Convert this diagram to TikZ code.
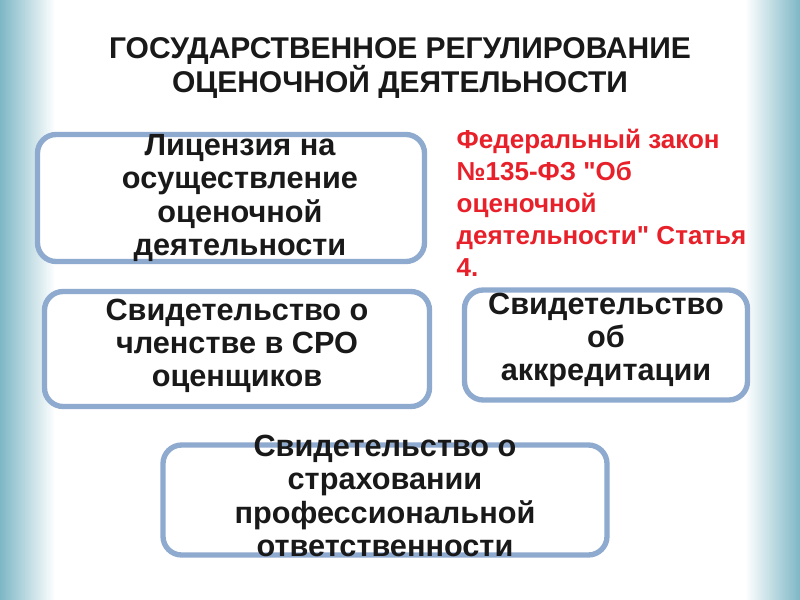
\documentclass[tikz,border=0pt]{standalone}
\usepackage{fontspec}
\setmainfont{Liberation Sans}
\usetikzlibrary{positioning}
\definecolor{edge}{HTML}{8FAACF}
\definecolor{sea}{HTML}{7DB7C6}
\definecolor{lawred}{HTML}{E8202A}
\tikzset{box/.style={draw=edge,line width=4pt,rounded corners=14pt,fill=white}}
\tikzset{txt/.style={font=\bfseries\fontsize{23}{25}\selectfont,align=center,text=black!90}}
\begin{document}
\begin{tikzpicture}[x=0.75pt,y=-0.75pt]
\useasboundingbox (0,0) rectangle (800,600);
\fill[white] (0,0) rectangle (800,600);
\shade[left color=sea,right color=white] (0,0) rectangle (55,600);
\shade[right color=sea,left color=white] (745,0) rectangle (800,600);

\node[txt,font=\bfseries\fontsize{22.5}{26}\selectfont] (title) at (400,68)
  {ГОСУДАРСТВЕННОЕ РЕГУЛИРОВАНИЕ\\ОЦЕНОЧНОЙ ДЕЯТЕЛЬНОСТИ};

\node[box,minimum width=387*0.75pt,minimum height=127*0.75pt] (lic) at (231,198) {};
\node[txt] (lictxt) at (240,198) {Лицензия на\\осуществление\\оценочной\\деятельности};

\node[box,minimum width=385*0.75pt,minimum height=115*0.75pt] (sro) at (237,349) {};
\node[txt] (srotxt) at (237,346) {Свидетельство о\\членстве в СРО\\оценщиков};

\node[box,minimum width=283*0.75pt,minimum height=110*0.75pt] (akk) at (606,345) {};
\node[txt] (akktxt) at (606,340) {Свидетельство\\об\\аккредитации};

\node[box,minimum width=444*0.75pt,minimum height=110*0.75pt] (str) at (385,500) {};
\node[txt] (strtxt) at (385,496) {Свидетельство о\\страховании\\профессиональной\\ответственности};

\node[txt,align=left,anchor=north west,text=lawred,font=\bfseries\fontsize{19.5}{24}\selectfont] (law) at (452,124)
  {Федеральный закон\\№135-ФЗ \textquotedbl Об\\оценочной\\деятельности\textquotedbl{} Статья\\4.};
\end{tikzpicture}
\end{document}
